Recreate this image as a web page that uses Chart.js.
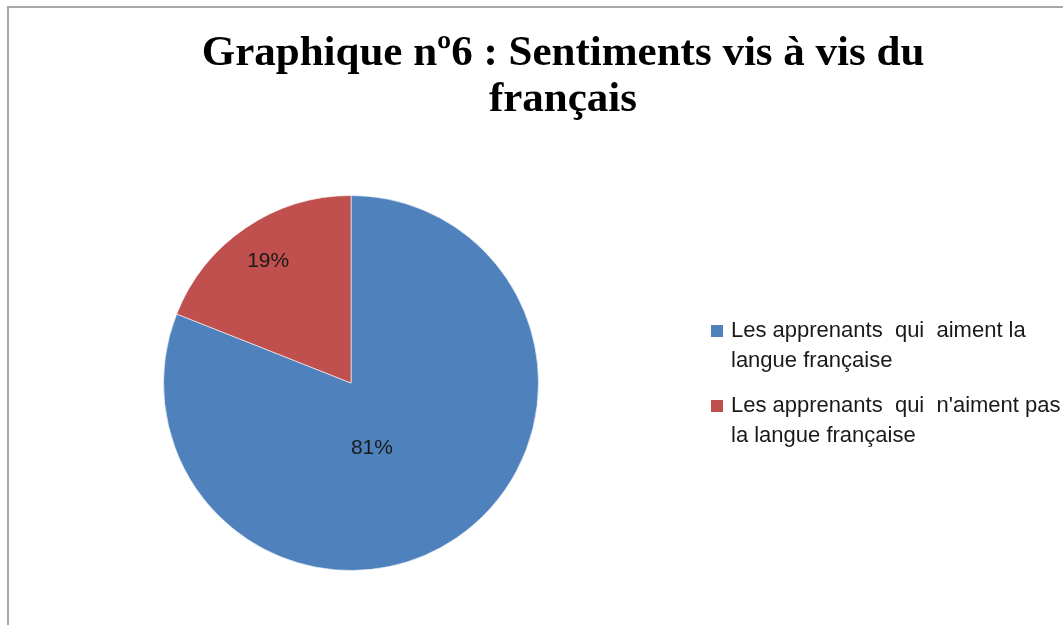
<!DOCTYPE html>
<html>
<head>
<meta charset="utf-8">
<script src="https://cdn.jsdelivr.net/npm/chart.js@4/dist/chart.umd.min.js"></script>
<style>
  html, body { margin: 0; padding: 0; background: #fff; overflow: hidden; width: 1063px; height: 625px; }
  #frame { position: absolute; left: 7px; top: 6px; width: 1200px; height: 700px;
           border-left: 2px solid #a8a8a8; border-top: 2px solid #a8a8a8; }
  #c { position: absolute; left: 0; top: 0; }
</style>
</head>
<body>
<div id="frame"></div>
<canvas id="c" width="1126" height="625"></canvas>
<script>
// ---- data ----
const titleLines = ['Graphique nº6 : Sentiments vis à vis du', 'français'];
const categories = [
  ['Les apprenants  qui  aiment la', 'langue française'],
  ['Les apprenants  qui  n\'aiment pas', 'la langue française']
];
const values = [81, 19];
const sliceColors = ['#4F81BD', '#C0504D'];

// ---- styles ----
const titleStyle = {
  font: 'bold 43px "Liberation Serif", "Times New Roman", serif',
  color: '#000', x: 563, y: 65, lineH: 46
};
const labelStyle = {
  font: '21px "Liberation Sans", Arial, sans-serif',
  color: '#1a1a1a',
  radiusFrac: [0.363, 0.786],
  angleShiftDeg: [16.3, 0]
};
const legendStyle = {
  x: 711, y: 331, box: 12, textX: 731, lineH: 30, itemGap: 75,
  font: '22px "Liberation Sans", Arial, sans-serif', color: '#1a1a1a'
};

const bigTitle = {
  id: 'bigTitle',
  afterDraw(chart) {
    const ctx = chart.ctx;
    ctx.save();
    ctx.font = titleStyle.font;
    ctx.fillStyle = titleStyle.color;
    ctx.textAlign = 'center';
    ctx.textBaseline = 'alphabetic';
    titleLines.forEach((ln, i) => ctx.fillText(ln, titleStyle.x, titleStyle.y + i * titleStyle.lineH));
    ctx.restore();
  }
};

const pctLabels = {
  id: 'pctLabels',
  afterDatasetsDraw(chart) {
    const ctx = chart.ctx;
    const meta = chart.getDatasetMeta(0);
    const total = values.reduce((a, b) => a + b, 0);
    ctx.save();
    ctx.font = labelStyle.font;
    ctx.fillStyle = labelStyle.color;
    ctx.textAlign = 'center';
    ctx.textBaseline = 'middle';
    meta.data.forEach((arc, i) => {
      const p = arc.getProps(['x', 'y', 'startAngle', 'endAngle', 'outerRadius'], true);
      const mid = (p.startAngle + p.endAngle) / 2 + labelStyle.angleShiftDeg[i] * Math.PI / 180;
      const r = p.outerRadius * labelStyle.radiusFrac[i];
      const txt = Math.round(values[i] / total * 100) + '%';
      ctx.fillText(txt, p.x + Math.cos(mid) * r, p.y + Math.sin(mid) * r);
    });
    ctx.restore();
  }
};

const sideLegend = {
  id: 'sideLegend',
  afterDraw(chart) {
    const ctx = chart.ctx;
    const labels = chart.data.labels;
    const colors = chart.data.datasets[0].backgroundColor;
    ctx.save();
    ctx.font = legendStyle.font;
    ctx.textAlign = 'left';
    ctx.textBaseline = 'middle';
    labels.forEach((lines, i) => {
      const y0 = legendStyle.y + i * legendStyle.itemGap;
      ctx.fillStyle = colors[i];
      ctx.fillRect(legendStyle.x, y0 - legendStyle.box / 2, legendStyle.box, legendStyle.box);
      ctx.fillStyle = legendStyle.color;
      lines.forEach((ln, j) => ctx.fillText(ln, legendStyle.textX, y0 + j * legendStyle.lineH));
    });
    ctx.restore();
  }
};

new Chart(document.getElementById('c'), {
  type: 'pie',
  data: {
    labels: categories,
    datasets: [{
      data: values,
      backgroundColor: sliceColors,
      borderColor: 'rgba(255,255,255,0.6)',
      borderWidth: 1
    }]
  },
  options: {
    responsive: false,
    animation: false,
    devicePixelRatio: 1,
    layout: { padding: { left: 163, right: 587, top: 195, bottom: 54 } },
    plugins: {
      legend: { display: false },
      tooltip: { enabled: false },
      title: { display: false }
    }
  },
  plugins: [pctLabels, sideLegend, bigTitle]
});
</script>
</body>
</html>
